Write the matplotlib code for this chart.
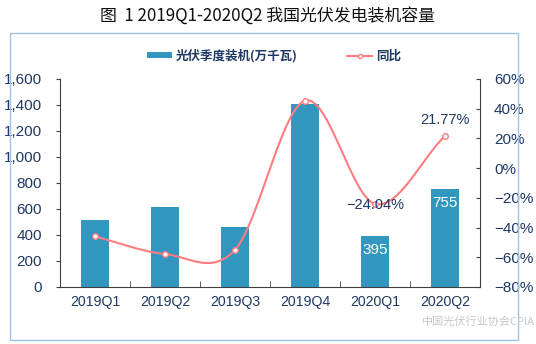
import numpy as np
import matplotlib
matplotlib.use("Agg")
import matplotlib.pyplot as plt
from matplotlib.patches import Rectangle
from matplotlib.lines import Line2D
from matplotlib.patches import Patch

plt.rcParams['font.family'] = ['Liberation Sans', 'Noto Sans CJK SC', 'DejaVu Sans']

categories = ["2019Q1", "2019Q2", "2019Q3", "2019Q4", "2020Q1", "2020Q2"]
installed = [515, 615, 460, 1410, 395, 755]
yoy = [-46.0, -57.8, -55.0, 45.4, -24.04, 21.77]
left_ticks = [0, 200, 400, 600, 800, 1000, 1200, 1400, 1600]
right_ticks = [-80, -60, -40, -20, 0, 20, 40, 60]

navy = "#1f3864"
bar_c = "#3296bf"
line_c = "#ff7c80"

W, H = 536, 344
fig = plt.figure(figsize=(W / 100, H / 100), dpi=100)

# frame
fig.patches.append(Rectangle((10 / W, 1 - 340 / H), 508 / W, 307 / H, transform=fig.transFigure,
                             fill=False, edgecolor="#9dc3e6", linewidth=1.0))

fig.text(0.5, 1 - 16 / H, "图  1 2019Q1-2020Q2 我国光伏发电装机容量", ha="center", va="center",
         fontsize=12.2, family=['Noto Sans CJK SC'], color="#111111")

ax = fig.add_axes([60 / W, 1 - 287 / H, 420 / W, 208 / H])
x = np.arange(len(categories))
ax.bar(x, installed, width=0.4, color=bar_c, zorder=2)
ax.set_xlim(-0.5, len(categories) - 0.5)
ax.set_ylim(0, 1600)
ax.set_yticks(left_ticks)
ax.set_yticklabels([f"{v:,}" for v in left_ticks])
ax.set_xticks(x)
ax.set_xticklabels(categories)
ax.set_xticks(np.arange(-0.5, len(categories), 1), minor=True)
ax.tick_params(axis='x', which='major', length=0, pad=6, labelsize=10.2, labelcolor=navy)
ax.tick_params(axis='x', which='minor', length=4, direction='in', color="#404040")
ax.tick_params(axis='y', length=3, direction='out', pad=10, labelsize=11, labelcolor=navy, color="#404040")
for s in ['top', 'right']:
    ax.spines[s].set_visible(False)
for s in ['left', 'bottom']:
    ax.spines[s].set_color("#404040")

ax2 = ax.twinx()
ax2.set_ylim(-80, 60)
ax2.set_yticks(right_ticks)
ax2.set_yticklabels([f"{v}%".replace("-", "\u2212") for v in right_ticks])
ax2.tick_params(axis='y', length=3, direction='in', pad=10, labelsize=11, labelcolor=navy, color="#404040")
for s in ['top', 'left', 'bottom']:
    ax2.spines[s].set_visible(False)
ax2.spines['right'].set_color("#404040")

# smooth (Catmull-Rom) curve through the points
xs = x.astype(float)
ys = np.array(yoy, dtype=float)
px, py = [], []
n = len(xs)
for i in range(n - 1):
    p0 = ys[i]; p1 = ys[i + 1]
    m0 = (ys[i + 1] - ys[i - 1]) / 2 if i > 0 else (ys[i + 1] - ys[i])
    m1 = (ys[i + 2] - ys[i]) / 2 if i + 2 < n else (ys[i + 1] - ys[i])
    t = np.linspace(0, 1, 40)
    h00 = 2 * t**3 - 3 * t**2 + 1
    h10 = t**3 - 2 * t**2 + t
    h01 = -2 * t**3 + 3 * t**2
    h11 = t**3 - t**2
    px.extend(xs[i] + t)
    py.extend(h00 * p0 + h10 * m0 + h01 * p1 + h11 * m1)
ax2.plot(px, py, color=line_c, linewidth=1.5, zorder=3)
ax2.plot(xs, ys, linestyle='none', marker='o', markersize=4, markerfacecolor='white',
         markeredgecolor=line_c, markeredgewidth=1.0, zorder=4)

# labels
ax.text(x[4], installed[4] - 110, f"{installed[4]}", ha="center", va="center", color="white", fontsize=11, zorder=5)
ax.text(x[5], installed[5] - 110, f"{installed[5]}", ha="center", va="center", color="white", fontsize=11, zorder=5)
ax2.text(x[4], yoy[4] - 0.5, f"{yoy[4]:.2f}%".replace("-", "\u2212"), ha="center", va="center", color=navy, fontsize=10.5, zorder=5)
ax2.text(x[5], yoy[5] + 10.6, f"{yoy[5]:.2f}%", ha="center", va="center", color=navy, fontsize=10.5, zorder=5)

# legend
handles = [Patch(facecolor=bar_c, edgecolor='none'),
           Line2D([0], [0], color=line_c, linewidth=1.5, marker='o', markersize=3,
                  markerfacecolor='white', markeredgecolor=line_c)]
leg = fig.legend(handles, ["光伏季度装机(万千瓦)", "同比"], loc="center", bbox_to_anchor=(274 / W, 1 - 56 / H),
                 ncol=2, frameon=False, handlelength=2.0, handleheight=0.4, columnspacing=4.0,
                 handletextpad=0.3, prop={'family': ['Noto Sans CJK SC'], 'weight': 'bold', 'size': 9})
for t in leg.get_texts():
    t.set_color(navy)

fig.text(478 / W, 1 - 322 / H, "中国光伏行业协会CPIA", ha="center", va="center", fontsize=8,
         family=['Noto Sans CJK SC'], color="#c8c8c8")

fig.savefig("out.png", dpi=100)
